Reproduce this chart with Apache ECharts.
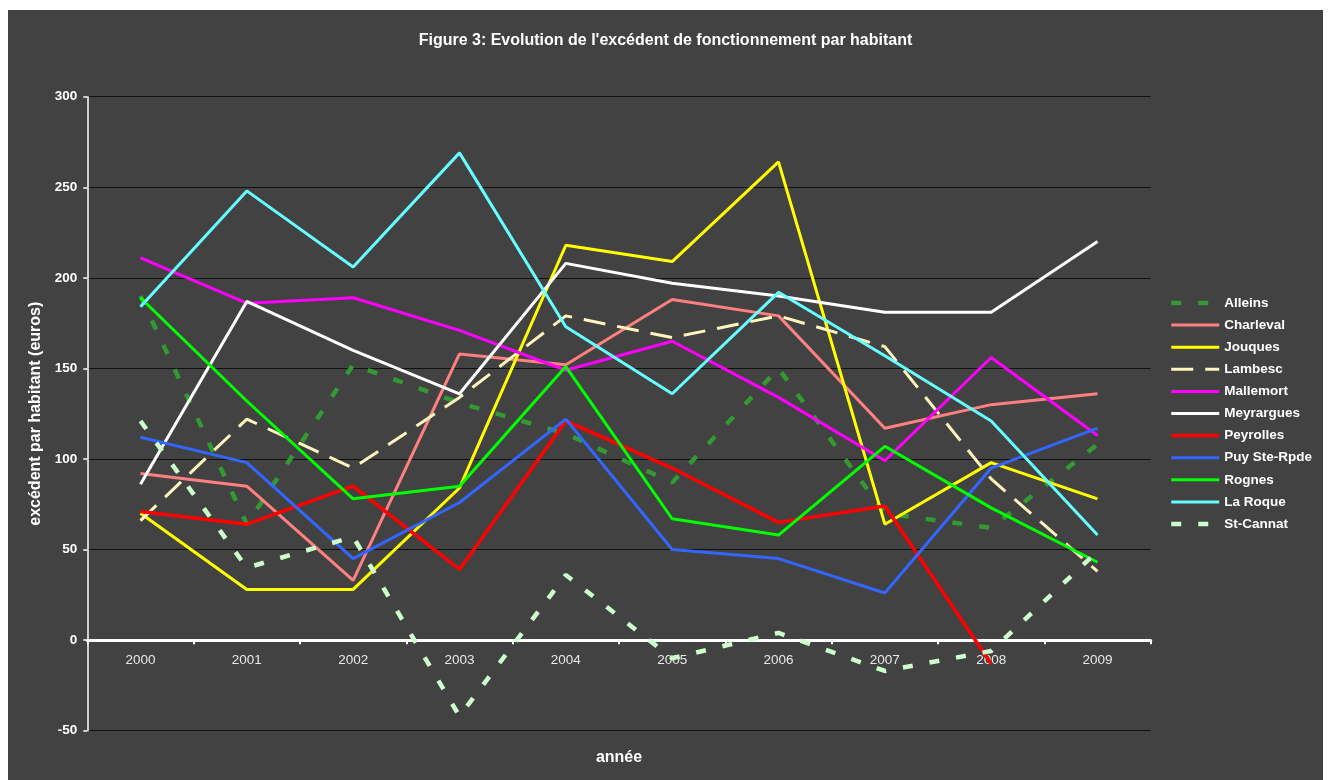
<!DOCTYPE html>
<html>
<head>
<meta charset="utf-8">
<script src="https://cdn.jsdelivr.net/npm/echarts@6/dist/echarts.min.js"></script>
<style>
html,body{margin:0;padding:0;background:#ffffff;width:1330px;height:780px;overflow:hidden;}
#c{position:absolute;left:8px;top:10px;width:1315px;height:770px;}
</style>
</head>
<body>
<div id="c"></div>
<script>
const years = ['2000','2001','2002','2003','2004','2005','2006','2007','2008','2009'];
const yTicks = [-50, 0, 50, 100, 150, 200, 250, 300];

const alleins    = [190, 64, 152, 131, 114, 87, 150, 70, 62, 108];
const charleval  = [92, 85, 33, 158, 152, 188, 179, 117, 130, 136];
const jouques    = [70, 28, 28, 84, 218, 209, 264, 64, 98, 78];
const lambesc    = [66, 122, 95, 134, 179, 167, 179, 162, 89, 38];
const mallemort  = [211, 186, 189, 171, 149, 165, 134, 99, 156, 113];
const meyrargues = [86, 187, 160, 136, 208, 197, 190, 181, 181, 220];
const peyrolles  = [71, 64, 85, 39, 121, 95, 65, 74, -13, null];
const puy        = [112, 98, 45, 76, 122, 50, 45, 26, 95, 117];
const rognes     = [189, 132, 78, 85, 151, 67, 58, 107, 73, 43];
const laRoque    = [184, 248, 206, 269, 173, 136, 192, 157, 121, 58];
const stCannat   = [121, 40, 57, -42, 36, -10, 4, -17, -6, 49];

const names = ['Alleins','Charleval','Jouques','Lambesc','Mallemort','Meyrargues','Peyrolles','Puy Ste-Rpde','Rognes','La Roque','St-Cannat'];
const values = [alleins, charleval, jouques, lambesc, mallemort, meyrargues, peyrolles, puy, rognes, laRoque, stCannat];
const colors = ['#339933','#FF8080','#FFFF00','#FFF6BE','#FF00FF','#FFFFFF','#FF0000','#3366FF','#00FF00','#66FFFF','#CCFFCC'];
const widths = [4.5, 3, 3, 3, 3, 3, 3.5, 3, 3, 3, 4.5];
const dashes = [[10,17], null, null, [22,12], null, null, null, null, null, null, [10,17]];

const font = 'Arial, "Liberation Sans", sans-serif';

const gridTop = 86.7, gridHeight = 634;
// pixel offset of the zero line above the bottom of the plot
const zeroOffset = gridHeight * (0 - yTicks[0]) / (yTicks[yTicks.length - 1] - yTicks[0]);

const series = names.map((n, i) => ({
  name: n,
  type: 'line',
  data: values[i],
  symbol: 'none',
  connectNulls: false,
  lineStyle: {
    color: colors[i],
    width: widths[i],
    type: dashes[i] ? dashes[i] : 'solid',
    cap: 'butt'
  },
  itemStyle: { color: colors[i] },
  z: 2 + i
}));

const chart = echarts.init(document.getElementById('c'), null, {renderer: 'canvas'});
chart.setOption({
  backgroundColor: '#424242',
  animation: false,
  title: {
    text: "Figure 3: Evolution de l'excédent de fonctionnement par habitant",
    left: 'center',
    top: 23,
    padding: 0,
    textStyle: { color: '#ffffff', fontFamily: font, fontSize: 16, fontWeight: 'bold' }
  },
  legend: {
    orient: 'vertical',
    left: 1161,
    top: 286,
    padding: 0,
    itemWidth: 48,
    itemHeight: 14,
    itemGap: 8.1,
    itemStyle: { opacity: 0 },
    lineStyle: { width: 'inherit' },
    textStyle: { color: '#ffffff', fontFamily: font, fontSize: 13.5, fontWeight: 'bold' },
    data: names
  },
  grid: { left: 79.3, top: gridTop, width: 1063.4, height: gridHeight, containLabel: false, outerBoundsMode: 'none' },
  xAxis: {
    type: 'category',
    data: years,
    boundaryGap: true,
    position: 'bottom',
    offset: -zeroOffset,
    name: 'année',
    nameLocation: 'middle',
    nameGap: 109,
    nameTextStyle: { color: '#ffffff', fontFamily: font, fontSize: 16, fontWeight: 'bold' },
    axisLine: { onZero: false, lineStyle: { color: '#ffffff', width: 3 } },
    axisTick: { show: true, length: 4, lineStyle: { color: '#ffffff', width: 2 } },
    axisLabel: { color: '#e8e8e8', fontFamily: font, fontSize: 13.5, margin: 13 },
    splitLine: { show: false }
  },
  yAxis: {
    type: 'value',
    min: yTicks[0],
    max: yTicks[yTicks.length - 1],
    interval: 50,
    name: 'excédent par habitant (euros)',
    nameLocation: 'middle',
    nameRotate: 90,
    nameGap: 38,
    nameTextStyle: { color: '#ffffff', fontFamily: font, fontSize: 16, fontWeight: 'bold' },
    axisLine: { show: true, lineStyle: { color: '#ffffff', width: 1.5 } },
    axisTick: { show: true, length: 4, lineStyle: { color: '#ffffff', width: 1.5 } },
    axisLabel: { color: '#ffffff', fontFamily: font, fontSize: 13.5, fontWeight: 'bold', margin: 10 },
    splitLine: { show: true, lineStyle: { color: '#111111', width: 1.2 } }
  },
  series: series
});
</script>
</body>
</html>
